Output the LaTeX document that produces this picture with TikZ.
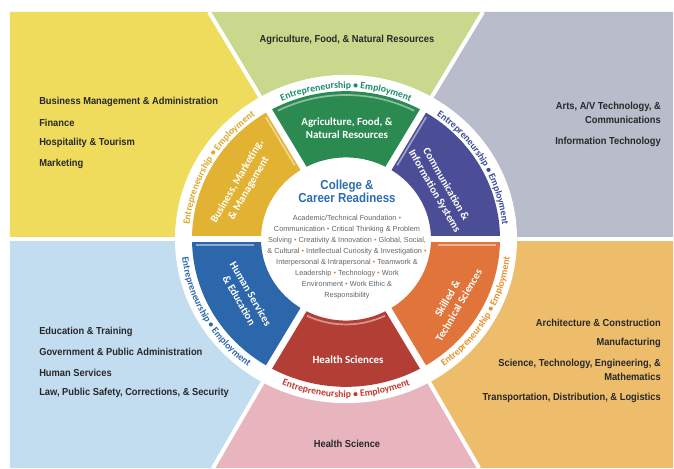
\documentclass[tikz,border=0pt]{standalone}
\usepackage{fontspec}
\setmainfont{Liberation Sans}
\newfontfamily\listfont[FakeStretch=0.92]{Liberation Sans}
\newfontfamily\titlefont[FakeStretch=0.88]{Liberation Sans}
\newfontfamily\wheelfont{Carlito}
\usetikzlibrary{decorations.text}

\definecolor{bgyellow}{RGB}{239,219,92}
\definecolor{bggreen}{RGB}{200,217,142}
\definecolor{bggray}{RGB}{184,188,203}
\definecolor{bgblue}{RGB}{194,221,240}
\definecolor{bgpink}{RGB}{232,181,190}
\definecolor{bgorange}{RGB}{237,189,108}
\definecolor{seggreen}{RGB}{42,138,80}
\definecolor{segpurple}{RGB}{75,77,151}
\definecolor{segorange}{RGB}{224,116,58}
\definecolor{segred}{RGB}{178,62,54}
\definecolor{segblue}{RGB}{44,103,172}
\definecolor{seggold}{RGB}{226,178,50}
\definecolor{ringteal}{RGB}{26,140,108}
\definecolor{ringpurple}{RGB}{58,76,152}
\definecolor{ringorange}{RGB}{232,144,42}
\definecolor{ringred}{RGB}{192,58,46}
\definecolor{ringblue}{RGB}{46,104,173}
\definecolor{ringgold}{RGB}{217,169,42}
\definecolor{titleblue}{RGB}{43,109,180}
\definecolor{listtext}{RGB}{40,40,40}
\definecolor{smalltext}{RGB}{100,100,100}
\definecolor{dotorange}{RGB}{230,130,50}

\newcommand\crdot{\textcolor{dotorange}{•}}

\begin{document}
\begin{tikzpicture}[x=0.75pt, y=0.75pt,
  listitem/.style={font=\listfont\fontsize{7.6}{10.5}\selectfont\bfseries, text=listtext, inner sep=0pt},
  seglabel/.style={font=\wheelfont\fontsize{8.2}{10}\selectfont\bfseries, text=white, align=center, inner sep=0pt},
  bggap/.style={white, line width=3pt},
  seggap/.style={white, line width=5pt},
  sheen/.style={white, opacity=0.45, line width=1.3pt},
  ringtext/.style={decorate, decoration={text along path, text align=center,
    text={|\wheelfont\fontsize{7.3}{8}\selectfont\bfseries\color{#1}|Entrepreneurship • Employment}}}]
\fill[white] (-346,-229) rectangle (328,239);
\useasboundingbox (-346,-229) rectangle (328,239);
\coordinate (hub) at (0,0);
\coordinate (tl) at (-137,227);
\coordinate (tr) at (137,227);
\coordinate (bl) at (-133,-229);
\coordinate (br) at (133,-229);
\coordinate (ml) at (-336,0);
\coordinate (mr) at (327,0);
\fill[bgyellow] (hub) -- (tl) -- (-336,227) -- (ml) -- cycle;
\fill[bggreen] (hub) -- (tl) -- (tr) -- cycle;
\fill[bggray] (hub) -- (tr) -- (327,227) -- (mr) -- cycle;
\fill[bgorange] (hub) -- (mr) -- (327,-229) -- (br) -- cycle;
\fill[bgpink] (hub) -- (br) -- (bl) -- cycle;
\fill[bgblue] (hub) -- (bl) -- (-336,-229) -- (ml) -- cycle;
\draw[bggap] (hub) -- (tl);
\draw[bggap] (hub) -- (tr);
\draw[bggap] (hub) -- (bl);
\draw[bggap] (hub) -- (br);
\draw[bggap] (hub) -- (ml);
\draw[bggap] (hub) -- (mr);

\begin{scope}[yscale=0.96]
\fill[white] (hub) circle[radius=171];
\fill[seggreen] (60:85) arc[start angle=60, end angle=120, radius=85] -- (120:154) arc[start angle=120, end angle=60, radius=154] -- cycle;
\fill[seggold] (120:85) arc[start angle=120, end angle=180, radius=85] -- (180:154) arc[start angle=180, end angle=120, radius=154] -- cycle;
\fill[segblue] (180:85) arc[start angle=180, end angle=240, radius=85] -- (240:154) arc[start angle=240, end angle=180, radius=154] -- cycle;
\fill[segred] (240:85) arc[start angle=240, end angle=300, radius=85] -- (300:154) arc[start angle=300, end angle=240, radius=154] -- cycle;
\fill[segorange] (300:85) arc[start angle=300, end angle=360, radius=85] -- (0:154) arc[start angle=360, end angle=300, radius=154] -- cycle;
\fill[segpurple] (0:85) arc[start angle=0, end angle=60, radius=85] -- (60:154) arc[start angle=60, end angle=0, radius=154] -- cycle;
\foreach \a in {0,60,...,300}
  \draw[seggap] (\a:80) -- (\a:160);
% light edge along the upper side of each segment
\draw[sheen] (63:150) arc[start angle=63, end angle=117, radius=150];
\draw[sheen, shift={(210:6)}] (120:92) -- (120:150);
\draw[sheen] (-92,-6) -- (-150,-6);
\draw[sheen] (244:89) arc[start angle=244, end angle=296, radius=89];
\draw[sheen] (92,-6) -- (150,-6);
\draw[sheen, shift={(-30:6)}] (60:92) -- (60:150);
\path[ringtext=ringteal] (120:157) arc[start angle=120, end angle=60, radius=157];
\path[ringtext=ringpurple] (60:157) arc[start angle=60, end angle=0, radius=157];
\path[ringtext=ringorange] (300:165) arc[start angle=300, end angle=360, radius=165];
\path[ringtext=ringred] (240:165) arc[start angle=240, end angle=300, radius=165];
\path[ringtext=ringblue] (180:165) arc[start angle=180, end angle=240, radius=165];
\path[ringtext=ringgold] (180:157) arc[start angle=180, end angle=120, radius=157];
\end{scope}

\node[seglabel] (agri) at (1,111) {Agriculture, Food, \&\\Natural Resources};
\node[seglabel, rotate=-60] (comm) at (94,51) {Communication \&\\Information Systems};
\node[seglabel, rotate=60] (skilled) at (107,-63) {Skilled \&\\Technical Sciences};
\node[seglabel] (health) at (2,-121) {Health Sciences};
\node[seglabel, rotate=-60] (human) at (-101,-58) {Human Services\\\& Education};
\node[seglabel, rotate=60] (business) at (-103,54) {Business, Marketing,\\\& Management};

\node[font=\titlefont\fontsize{9.8}{9.6}\selectfont\bfseries, text=titleblue, align=center, inner sep=0pt] (title) at (1,48) {College \&\\Career Readiness};
\node[font=\fontsize{5.5}{8.2}\selectfont, text=smalltext, align=center, inner sep=0pt] (skills) at (1,-18) {Academic/Technical Foundation \crdot\\Communication \crdot{} Critical Thinking \& Problem\\Solving \crdot{} Creativity \& Innovation \crdot{} Global, Social,\\\& Cultural \crdot{} Intellectual Curiosity \& Investigation \crdot\\Interpersonal \& Intrapersonal \crdot{} Teamwork \&\\Leadership \crdot{} Technology \crdot{} Work\\Environment \crdot{} Work Ethic \&\\Responsibility};

\node[listitem] (afnr) at (1,199) {Agriculture, Food, \& Natural Resources};
\node[listitem] (hsci) at (1,-205) {Health Science};

\node[listitem, anchor=west] (bma) at (-307,137) {Business Management \& Administration};
\node[listitem, anchor=west] (fin) at (-307,116) {Finance};
\node[listitem, anchor=west] (hosp) at (-307,96) {Hospitality \& Tourism};
\node[listitem, anchor=west] (mkt) at (-307,75) {Marketing};

\node[listitem, anchor=east, align=right] (arts) at (315,126) {Arts, A/V Technology, \&\\Communications};
\node[listitem, anchor=east] (infotech) at (315,97) {Information Technology};

\node[listitem, anchor=west] (edu) at (-307,-93) {Education \& Training};
\node[listitem, anchor=west] (gov) at (-307,-113) {Government \& Public Administration};
\node[listitem, anchor=west] (hserv) at (-307,-134) {Human Services};
\node[listitem, anchor=west] (law) at (-307,-154) {Law, Public Safety, Corrections, \& Security};

\node[listitem, anchor=east] (arch) at (315,-84) {Architecture \& Construction};
\node[listitem, anchor=east] (manu) at (315,-104) {Manufacturing};
\node[listitem, anchor=east, align=right] (stem) at (315,-131) {Science, Technology, Engineering, \&\\Mathematics};
\node[listitem, anchor=east] (trans) at (315,-159) {Transportation, Distribution, \& Logistics};
\end{tikzpicture}
\end{document}
